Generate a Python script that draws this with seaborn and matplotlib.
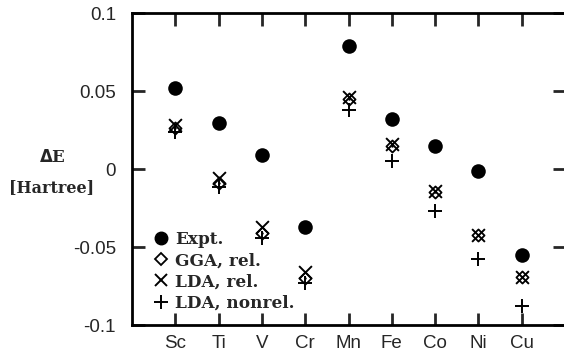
import matplotlib
matplotlib.use("Agg")
import matplotlib.pyplot as plt
import seaborn as sns
import pandas as pd
import numpy as np
from matplotlib.lines import Line2D

elements = ["Sc", "Ti", "V", "Cr", "Mn", "Fe", "Co", "Ni", "Cu"]
expt = [0.052, 0.0295, 0.009, -0.037, 0.079, 0.032, 0.015, -0.0015, -0.055]
gga_rel = [0.026, -0.009, -0.041, -0.070, 0.045, 0.015, -0.015, -0.042, -0.069]
lda_rel = [0.028, -0.006, -0.037, -0.066, 0.046, 0.016, -0.014, -0.042, -0.069]
lda_nonrel = [0.024, -0.0115, -0.044, -0.073, 0.038, 0.005, -0.027, -0.058, -0.088]
yticks = [-0.1, -0.05, 0, 0.05, 0.1]
ytick_labels = ["-0.1", "-0.05", "0", "0.05", "0.1"]

sns.set_style("white")
plt.rcParams["font.family"] = ["Liberation Sans", "DejaVu Sans"]

fig = plt.figure(figsize=(5.64, 3.58), dpi=100)
ax = fig.add_axes([132 / 564, 1 - 325 / 358, (565 - 132) / 564, (325 - 13) / 358])

xpos = np.arange(1, len(elements) + 1)
df = pd.DataFrame({"x": xpos, "Expt": expt, "GGA": gga_rel, "LDAr": lda_rel, "LDAn": lda_nonrel})

sns.scatterplot(data=df, x="x", y="Expt", ax=ax, marker="o", s=110, color="black",
                edgecolor="black", linewidth=0, zorder=3)
sns.scatterplot(data=df, x="x", y="GGA", ax=ax, marker="D", s=38, facecolor="white",
                edgecolor="black", linewidth=1.3, zorder=4)
sns.scatterplot(data=df, x="x", y="GGA", ax=ax, marker="o", s=3, color="black",
                linewidth=0, zorder=5)
sns.scatterplot(data=df, x="x", y="LDAr", ax=ax, marker="x", s=85, color="black",
                linewidth=1.4, zorder=4)
sns.scatterplot(data=df, x="x", y="LDAn", ax=ax, marker="+", s=95, color="black",
                linewidth=1.4, zorder=4)

ax.set_xlim(0, 10)
ax.set_ylim(-0.1, 0.1)
ax.set_xticks(xpos)
ax.set_xticklabels(elements, fontsize=13.5)
ax.set_yticks(yticks)
ax.set_yticklabels(ytick_labels, fontsize=13.5)
ax.set_xlabel("")
ax.set_ylabel("")
ax.tick_params(direction="in", length=9, width=2, top=True, right=True,
               bottom=True, left=True)
ax.tick_params(axis="x", pad=7.5)
ax.tick_params(axis="y", pad=11.5)
for s in ax.spines.values():
    s.set_linewidth(2)
    s.set_color("black")

fig.text(52 / 564, 1 - 158 / 358, r"$\mathbf{\Delta}$E", ha="center", va="center",
         fontsize=12, fontweight="bold", family="DejaVu Serif")
fig.text(52 / 564, 1 - 188 / 358, "[Hartree]", ha="center", va="center",
         fontsize=11.5, fontweight="bold", family="DejaVu Serif")

handles = [
    Line2D([], [], marker="o", ls="", color="black", markersize=9),
    Line2D([], [], marker="D", ls="", markerfacecolor="white", markeredgecolor="black",
           markersize=6, markeredgewidth=1.3),
    Line2D([], [], marker="x", ls="", color="black", markersize=9, markeredgewidth=1.4),
    Line2D([], [], marker="+", ls="", color="black", markersize=10, markeredgewidth=1.4),
]
labels = ["Expt.", "GGA, rel.", "LDA, rel.", "LDA, nonrel."]
leg = ax.legend(handles, labels, loc="lower left", bbox_to_anchor=(0.02, 0.0),
                frameon=False, handlelength=0.8, handletextpad=0.45,
                labelspacing=0.24, borderaxespad=0.4,
                prop={"family": "DejaVu Serif", "weight": "bold", "size": 12.2})

fig.savefig("out.png", dpi=100)
